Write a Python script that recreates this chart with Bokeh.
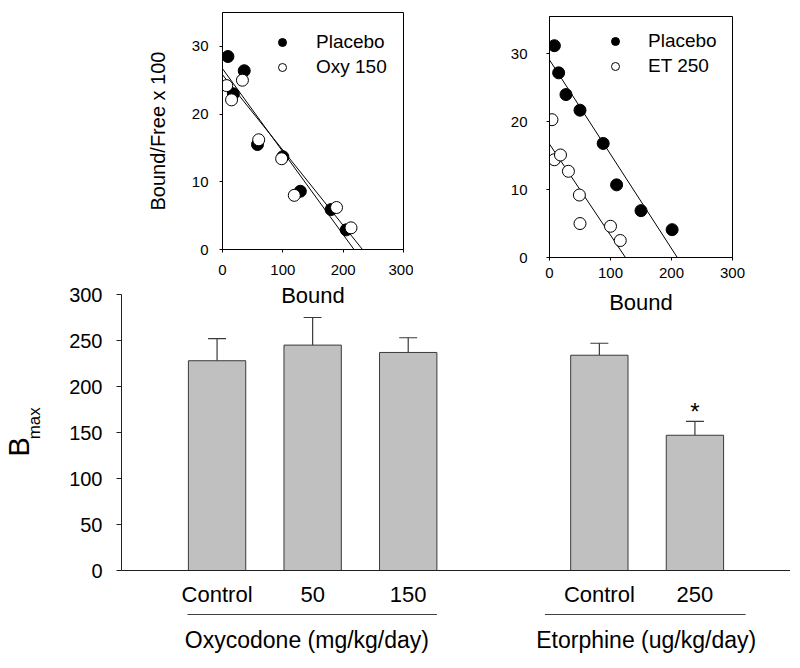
from bokeh.plotting import figure
from bokeh.layouts import column, row
from bokeh.models import (Range1d, FixedTicker, ColumnDataSource, Whisker, TeeHead,
                          Legend, LegendItem)
from bokeh.core.properties import value
from bokeh.embed import file_html
from bokeh.resources import INLINE
import math

FONT = "Liberation Sans"

# ---- Scatchard plot: oxycodone ----
oxy_placebo_bound = [9, 18, 36, 58, 100, 129, 180, 205]
oxy_placebo_bf = [28.5, 23.0, 26.4, 15.5, 13.7, 8.6, 5.9, 2.9]
oxy150_bound = [7, 15, 33, 60, 98, 119, 189, 213]
oxy150_bf = [24.2, 22.1, 25.0, 16.2, 13.4, 8.0, 6.2, 3.2]
oxy_placebo_fit_bound = [0, 218]
oxy_placebo_fit_bf = [26.7, 0]
oxy150_fit_bound = [0, 232]
oxy150_fit_bf = [25.8, 0]

# ---- Scatchard plot: etorphine ----
et_placebo_bound = [8, 15, 27, 50, 88, 110, 150, 201]
et_placebo_bf = [31.2, 27.2, 24.0, 21.7, 16.8, 10.7, 6.9, 4.1]
et250_bound = [4, 8, 18, 31, 49, 50, 100, 116]
et250_bf = [20.3, 14.4, 15.1, 12.7, 9.2, 5.0, 4.6, 2.5]
et_placebo_fit_bound = [0, 209.5]
et_placebo_fit_bf = [29.1, 0]
et250_fit_bound = [0, 124.5]
et250_fit_bf = [16.7, 0]

# ---- Bmax bar chart ----
bar_labels = ["Control", "50", "150", "Control", "250"]
bmax_mean = [228, 245, 237, 234, 147]
bmax_sem = [24, 30, 16, 13, 15]
bmax_sig = ["", "", "", "", "*"]
group_labels = ["Oxycodone (mg/kg/day)", "Etorphine (ug/kg/day)"]

scatter_ticks_x = [0, 100, 200, 300]
scatter_ticks_y = [0, 10, 20, 30]
bar_ticks_y = [0, 50, 100, 150, 200, 250, 300]


def style_scatter(p):
    p.grid.visible = False
    p.outline_line_color = "black"
    p.outline_line_width = 1
    p.xaxis.ticker = FixedTicker(ticks=scatter_ticks_x)
    p.yaxis.ticker = FixedTicker(ticks=scatter_ticks_y)
    for ax in (p.xaxis[0], p.yaxis[0]):
        ax.axis_line_color = "black"
        ax.major_tick_line_color = "black"
        ax.major_tick_out = 3
        ax.major_tick_in = 0
        ax.minor_tick_line_color = None
        ax.major_label_text_font = FONT
        ax.major_label_text_font_size = "15px"
        ax.major_label_text_color = "black"
        ax.axis_label_text_font = FONT
        ax.axis_label_text_font_style = "normal"
        ax.axis_label_text_color = "black"
    p.xaxis.axis_label = "Bound"
    p.xaxis.axis_label_text_font_size = "22px"
    p.background_fill_color = None
    p.border_fill_color = None


def add_legend(p, r1, r2, t1, t2, xoff, yoff, standoff):
    leg = Legend(items=[LegendItem(label=t1, renderers=[r1]),
                        LegendItem(label=t2, renderers=[r2])],
                 location=(xoff, yoff))
    leg.border_line_color = None
    leg.background_fill_alpha = 0
    leg.padding = 0
    leg.margin = 0
    leg.spacing = 3
    leg.glyph_width = 20
    leg.glyph_height = 20
    leg.label_height = 20
    leg.label_standoff = standoff
    leg.label_text_font = FONT
    leg.label_text_font_size = "19px"
    leg.label_text_color = "black"
    p.add_layout(leg)


# ---------------- top-left ----------------
p1 = figure(frame_width=181, frame_height=237,
            x_range=Range1d(0, 300), y_range=Range1d(0, 35),
            min_border_left=222, min_border_right=10,
            min_border_top=12, min_border_bottom=61,
            output_backend="svg", toolbar_location=None)
style_scatter(p1)
p1.yaxis.axis_label = "Bound/Free x 100"
p1.yaxis.axis_label_text_font_size = "20px"
p1.yaxis.axis_label_standoff = 20
p1.yaxis.major_label_standoff = 11
p1.xaxis.major_label_standoff = 12
p1.xaxis.axis_label_standoff = 5
p1.line(oxy_placebo_fit_bound, oxy_placebo_fit_bf, line_color="black", line_width=1)
p1.line(oxy150_fit_bound, oxy150_fit_bf, line_color="black", line_width=1)
ra = p1.scatter(oxy_placebo_bound, oxy_placebo_bf, size=12, marker="circle",
                fill_color="black", line_color="black")
rb = p1.scatter(oxy150_bound, oxy150_bf, size=12, marker="circle",
                fill_color="white", line_color="black", line_width=1)
add_legend(p1, ra, rb, "Placebo", "Oxy 150", 50, 171, 24)

# ---------------- top-right ----------------
p2 = figure(frame_width=183, frame_height=241,
            x_range=Range1d(0, 300), y_range=Range1d(0, 35.5),
            min_border_left=136, min_border_right=50,
            min_border_top=12, min_border_bottom=49,
            output_backend="svg", toolbar_location=None)
p2.margin = (4, 0, 0, 0)
style_scatter(p2)
p2.yaxis.major_label_standoff = 19
p2.xaxis.major_label_standoff = 7
p2.xaxis.axis_label_standoff = 9
p2.line(et_placebo_fit_bound, et_placebo_fit_bf, line_color="black", line_width=1)
p2.line(et250_fit_bound, et250_fit_bf, line_color="black", line_width=1)
rc = p2.scatter(et_placebo_bound, et_placebo_bf, size=12, marker="circle",
                fill_color="black", line_color="black")
rd = p2.scatter(et250_bound, et250_bf, size=12, marker="circle",
                fill_color="white", line_color="black", line_width=1)
add_legend(p2, rc, rd, "Placebo", "ET 250", 56, 180, 23)

# ---------------- bottom bar chart ----------------
bar_pos = [1, 2, 3, 5, 6]
src = ColumnDataSource(dict(x=bar_pos, mean=bmax_mean,
                            upper=[m + s for m, s in zip(bmax_mean, bmax_sem)],
                            star_y=[m + s + 11 for m, s in zip(bmax_mean, bmax_sem)],
                            sig=bmax_sig, lab=bar_labels,
                            lab_y=[-26.0] * len(bar_pos)))

yr = Range1d(-95.65, 300)
p3 = figure(frame_width=669, frame_height=364,
            x_range=Range1d(0, 7), y_range=yr,
            min_border_left=71, min_border_right=0,
            min_border_top=10, min_border_bottom=2,
            output_backend="svg", toolbar_location=None)
p3.grid.visible = False
p3.outline_line_color = None
p3.background_fill_color = None
p3.border_fill_color = None
p3.xaxis.visible = False
ya = p3.yaxis[0]
ya.bounds = (0, 300)
ya.ticker = FixedTicker(ticks=bar_ticks_y)
ya.axis_line_color = "#202020"
ya.major_tick_line_color = "#202020"
ya.major_tick_out = 5
ya.major_tick_in = 0
ya.minor_tick_line_color = None
ya.major_label_text_font = FONT
ya.major_label_text_font_size = "20px"
ya.major_label_text_color = "black"
ya.major_label_standoff = 14

p3.vbar(x="x", top="mean", bottom=0, width=0.6, source=src,
        fill_color="#c0c0c0", line_color="#3a3a3a", line_width=1)
wh = Whisker(base="x", upper="upper", lower="mean", source=src,
             line_color="#3a3a3a", line_width=1.2,
             upper_head=TeeHead(size=18, line_color="#3a3a3a", line_width=1.2),
             lower_head=None)
p3.add_layout(wh)
p3.segment(x0=[-0.1], y0=[0], x1=[7], y1=[0], line_color="#202020", line_width=1)
p3.text(x="x", y="star_y", text="sig", source=src, text_align="center",
        text_baseline="middle", text_font=value(FONT), text_font_size="24px",
        text_color="black")
p3.text(x="x", y="lab_y", text="lab", source=src, text_align="center",
        text_baseline="middle", text_font=value(FONT), text_font_size="22px",
        text_color="black")
group_x0 = [0.69, 4.43]
group_x1 = [3.30, 6.53]
group_cx = [1.94, 5.49]
p3.segment(x0=group_x0, y0=[-47.8] * 2, x1=group_x1, y1=[-47.8] * 2,
           line_color="#404040", line_width=1.2)
p3.text(x=group_cx, y=[-76.0] * 2, text=group_labels, text_align="center",
        text_baseline="middle", text_font=value(FONT), text_font_size="23px",
        text_color="black")

# narrow panel holding the rotated y-axis title "B_max"
pB = figure(frame_width=50, frame_height=364,
            x_range=Range1d(0, 50), y_range=yr,
            min_border_left=0, min_border_right=0,
            min_border_top=10, min_border_bottom=2,
            output_backend="svg", toolbar_location=None)
pB.axis.visible = False
pB.grid.visible = False
pB.outline_line_color = None
pB.background_fill_color = None
pB.border_fill_color = None
pB.text(x=[18.5], y=[134.5], text=["B"], angle=math.pi / 2, text_align="center",
        text_baseline="middle", text_font=value(FONT), text_font_size="29px",
        text_color="black")
pB.text(x=[34.0], y=[160.0], text=["max"], angle=math.pi / 2, text_align="center",
        text_baseline="middle", text_font=value(FONT), text_font_size="17px",
        text_color="black")

bottom = row(pB, p3)
bottom.margin = (-33, 0, 0, 0)
layout = column(row(p1, p2), bottom)
open("out.html", "w").write(file_html(layout, INLINE))
